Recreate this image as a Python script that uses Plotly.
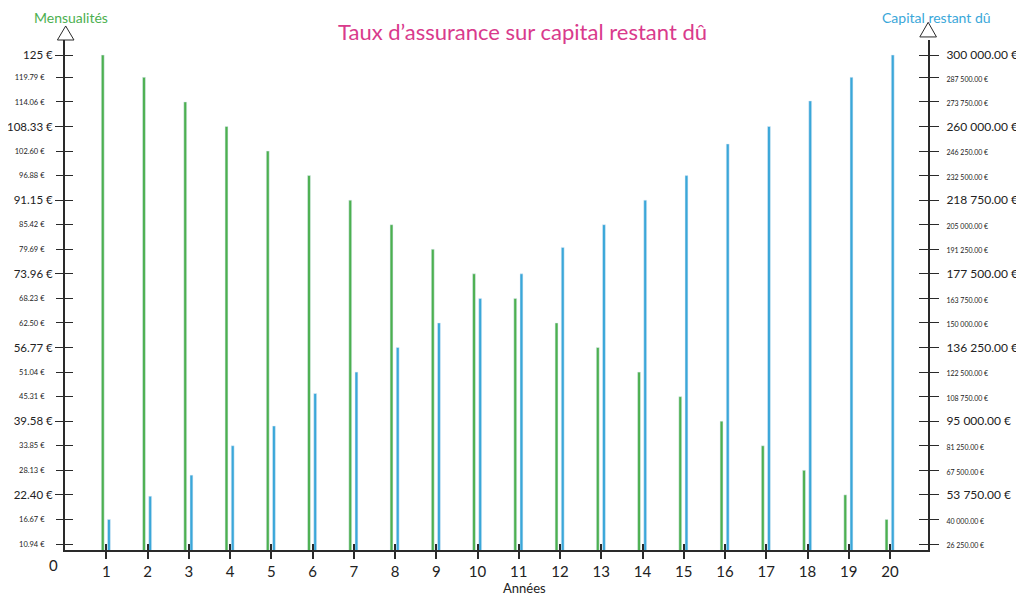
import plotly.graph_objects as go

annees = list(range(1, 21))

mensualites = [125.00, 119.79, 114.06, 108.33, 102.60, 96.88, 91.15, 85.42, 79.69, 73.96,
               68.23, 62.50, 56.77, 51.04, 45.31, 39.58, 33.85, 28.13, 22.40, 16.67]

capital = [40000, 53000, 64800, 81250, 92300, 110500, 122500, 136250, 150000, 163750,
           177500, 192300, 205000, 218750, 232500, 250200, 260000, 274300, 287500, 300000]

gauche_vals = [10.94, 16.67, 22.40, 28.13, 33.85, 39.58, 45.31, 51.04, 56.77, 62.50, 68.23,
               73.96, 79.69, 85.42, 91.15, 96.88, 102.60, 108.33, 114.06, 119.79, 125.00]
gauche_text = ["10.94 €", "16.67 €", "22.40 €", "28.13 €", "33.85 €", "39.58 €", "45.31 €",
               "51.04 €", "56.77 €", "62.50 €", "68.23 €", "73.96 €", "79.69 €", "85.42 €",
               "91.15 €", "96.88 €", "102.60 €", "108.33 €", "114.06 €", "119.79 €", "125 €"]

droite_vals = [26250, 40000, 53750, 67500, 81250, 95000, 108750, 122500, 136250, 150000, 163750,
               177500, 191250, 205000, 218750, 232500, 246250, 260000, 273750, 287500, 300000]
droite_text = ["26 250.00 €", "40 000.00 €", "53 750.00 €", "67 500.00 €", "81 250.00 €",
               "95 000.00 €", "108 750.00 €", "122 500.00 €", "136 250.00 €", "150 000.00 €",
               "163 750.00 €", "177 500.00 €", "191 250.00 €", "205 000.00 €", "218 750.00 €",
               "232 500.00 €", "246 250.00 €", "260 000.00 €", "273 750.00 €", "287 500.00 €",
               "300 000.00 €"]

VERT = "#4cb050"
BLEU = "#3aa7d9"
ROSE = "#d93a8c"
AXE = "#2a2a2a"
FONT = "Lato"

# every third label (from the 3rd) is printed bigger
grands = [i for i in range(len(gauche_vals)) if i % 3 == 2]
petits = [i for i in range(len(gauche_vals)) if i % 3 != 2]


def taille(textes, grand, petit):
    out = []
    for i, t in enumerate(textes):
        sz = grand if i in grands else petit
        out.append('<span style="font-size:%gpx">%s</span>' % (sz, t))
    return out


fig = go.Figure()
fig.add_trace(go.Bar(x=annees, y=mensualites, name="Mensualités", marker_color=VERT,
                     width=0.07, offset=-0.12, yaxis="y"))
fig.add_trace(go.Bar(x=annees, y=capital, name="Capital restant dû", marker_color=BLEU,
                     width=0.07, offset=0.03, yaxis="y2"))

# empty traces so that the extra tick axes get drawn
for xa, ya in [("x2", "y"), ("x", "y3"), ("x", "y4"), ("x", "y5")]:
    fig.add_trace(go.Scatter(x=[None], y=[None], xaxis=xa, yaxis=ya, hoverinfo="skip"))

y_bas, y_haut = 9.54, 128.5
conv = 13750 / 5.729


def vers_droite(v):
    return 26250 + (v - 10.94) * conv


sans = dict(showgrid=False, zeroline=False, automargin=False)

# the page body adds 8px around the figure, so the figure is 8px smaller
fig.update_layout(
    width=1016, height=590,
    margin=dict(l=57, r=96, t=32, b=48),
    plot_bgcolor="white", paper_bgcolor="white",
    showlegend=False, barmode="overlay",
    font=dict(family=FONT, color="#222"),
    xaxis=dict(range=[0, 20.92], tickvals=annees, ticks="outside", ticklen=7,
               tickwidth=1.5, tickcolor=AXE, showline=True, linecolor=AXE, linewidth=2,
               tickfont=dict(size=15), **sans),
    xaxis2=dict(overlaying="x", matches="x", tickvals=annees, ticks="inside", ticklen=6,
                tickwidth=1.5, tickcolor=AXE, showticklabels=False, anchor="y", **sans),
    yaxis=dict(range=[y_bas, y_haut], tickvals=[gauche_vals[i] for i in grands],
               ticktext=[gauche_text[i] for i in grands], tickfont=dict(size=11.5),
               ticks="outside", ticklen=8, tickwidth=1, tickcolor=AXE, showline=True,
               linecolor=AXE, linewidth=2, ticklabelstandoff=0, **sans),
    yaxis5=dict(overlaying="y", matches="y", side="left", anchor="x",
                tickvals=[gauche_vals[i] for i in petits],
                ticktext=[gauche_text[i] for i in petits], tickfont=dict(size=7.5),
                ticks="outside", ticklen=8, tickwidth=1, tickcolor=AXE,
                ticklabelstandoff=10, **sans),
    yaxis3=dict(overlaying="y", matches="y", side="left", anchor="x", tickvals=gauche_vals,
                ticks="inside", ticklen=8, tickwidth=1, tickcolor=AXE,
                showticklabels=False, **sans),
    yaxis2=dict(range=[vers_droite(y_bas), vers_droite(y_haut)], overlaying="y", side="right",
                anchor="x", tickvals=droite_vals, ticktext=taille(droite_text, 12, 7),
                ticks="outside", ticklen=9, tickwidth=1, tickcolor=AXE, showline=True,
                linecolor=AXE, linewidth=2, ticklabelstandoff=5, **sans),
    yaxis4=dict(overlaying="y", matches="y2", side="right", anchor="x", tickvals=droite_vals,
                ticks="inside", ticklen=9, tickwidth=1, tickcolor=AXE,
                showticklabels=False, **sans),
)

# arrows on top of the two vertical axes
fig.add_shape(type="path", xref="paper", yref="paper",
              path="M -0.0088,1 L 0.0104,1 L 0.0008,1.0275 Z",
              line=dict(color=AXE, width=1), fillcolor="white")
fig.add_shape(type="path", xref="paper", yref="paper",
              path="M 0.9905,1.006 L 1.0098,1.006 L 1.0002,1.0347 Z",
              line=dict(color=AXE, width=1), fillcolor="white")

fig.add_annotation(text="Taux d’assurance sur capital restant dû", xref="paper", yref="paper",
                   x=0.5296, y=1.0157, xanchor="center", yanchor="middle", showarrow=False,
                   font=dict(size=22, color=ROSE))
fig.add_annotation(text="Mensualités", xref="paper", yref="paper", x=0.007, y=1.064,
                   xanchor="center", yanchor="top", showarrow=False,
                   font=dict(size=14, color=VERT))
fig.add_annotation(text="Capital restant dû", xref="paper", yref="paper", x=1.0104, y=1.064,
                   xanchor="center", yanchor="top", showarrow=False,
                   font=dict(size=14, color=BLEU))
fig.add_annotation(text="0", xref="paper", yref="paper", x=-0.0139, y=-0.0294,
                   xanchor="center", yanchor="middle", showarrow=False, font=dict(size=15))
fig.add_annotation(text="Années", xref="paper", yref="paper", x=0.533, y=-0.0745,
                   xanchor="center", yanchor="middle", showarrow=False, font=dict(size=13))

fig.write_html("out.html")
